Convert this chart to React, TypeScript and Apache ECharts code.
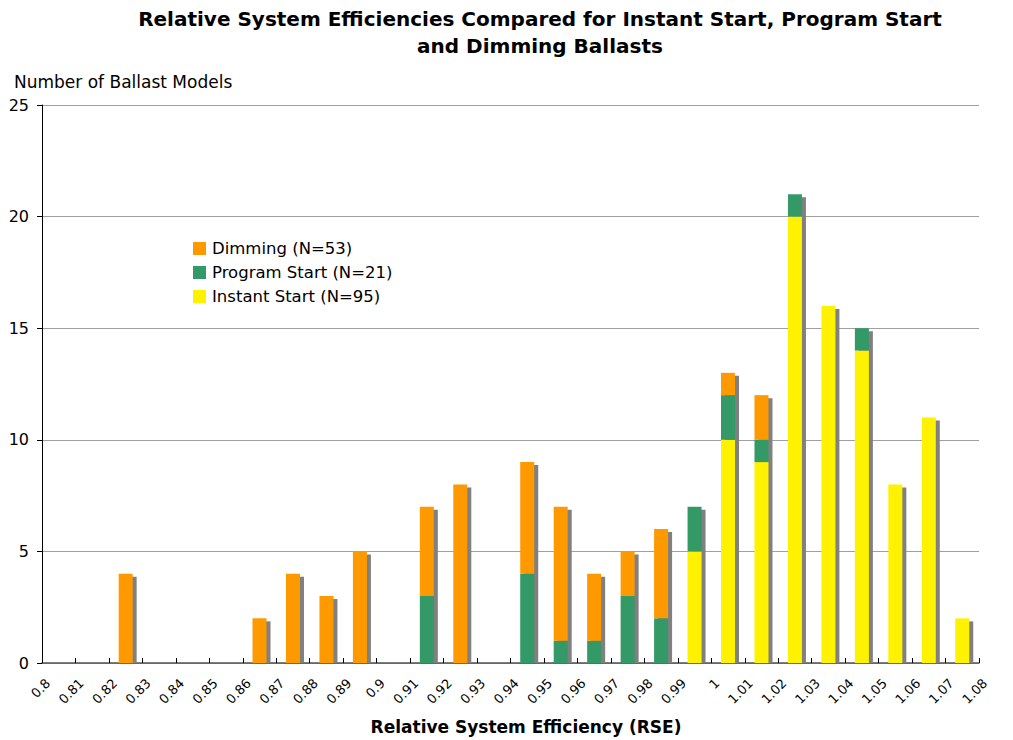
import React, { useEffect, useRef } from "react";
import * as echarts from "echarts";

const binLabels = ["0.80","0.81","0.82","0.83","0.84","0.85","0.86","0.87","0.88","0.89","0.90","0.91","0.92","0.93","0.94","0.95","0.96","0.97","0.98","0.99","1.00","1.01","1.02","1.03","1.04","1.05","1.06","1.07"];
const tickLabels = ["0.8","0.81","0.82","0.83","0.84","0.85","0.86","0.87","0.88","0.89","0.9","0.91","0.92","0.93","0.94","0.95","0.96","0.97","0.98","0.99","1","1.01","1.02","1.03","1.04","1.05","1.06","1.07","1.08"];

const instantStart = [0,0,0,0,0,0,0,0,0,0,0,0,0,0,0,0,0,0,0,5,10,9,20,16,14,8,11,2];
const programStart = [0,0,0,0,0,0,0,0,0,0,0,3,0,0,4,1,1,3,2,2,2,1,1,0,1,0,0,0];
const dimming      = [0,0,4,0,0,0,2,4,3,5,0,4,8,0,5,6,3,2,4,0,1,2,0,0,0,0,0,0];

const yTicks = [0, 5, 10, 15, 20, 25];

const FONT = "DejaVu Sans, Verdana, sans-serif";

export default function App() {
  const ref = useRef<HTMLDivElement>(null);
  useEffect(() => {
    if (!ref.current) return;
    const chart = echarts.init(ref.current, undefined, { renderer: "svg" });
    const totals = binLabels.map((_, i) => [i, instantStart[i] + programStart[i] + dimming[i]]);
    const BW = 14;
    chart.setOption({
      animation: false,
      backgroundColor: "#fff",
      textStyle: { fontFamily: FONT },
      title: {
        text: "Relative System Efficiencies Compared for Instant Start, Program Start\nand Dimming Ballasts",
        left: 535,
        top: 0,
        textAlign: "center",
        textStyle: { fontFamily: FONT, fontWeight: "bold", fontSize: 20, lineHeight: 27, color: "#000" },
      },
      graphic: [
        { type: "text", left: 14, top: 73, style: { text: "Number of Ballast Models", font: `17px ${FONT}`, fill: "#000" } },
        { type: "text", x: 526, y: 727, style: { text: "Relative System Efficiency (RSE)", font: `bold 17px ${FONT}`, fill: "#000", textAlign: "center", textVerticalAlign: "middle" } },
      ],
      legend: {
        orient: "vertical",
        left: 193,
        top: 240,
        padding: 0,
        itemWidth: 13,
        itemHeight: 13,
        itemGap: 7,
        icon: "rect",
        data: ["Dimming (N=53)", "Program Start (N=21)", "Instant Start (N=95)"],
        textStyle: { fontFamily: FONT, fontSize: 16.5, color: "#000", padding: [0, 0, 0, 1] },
      },
      grid: [
        { left: 42, right: 34, top: 105, bottom: 77, containLabel: false },
        { left: 48, right: 28, top: 105, bottom: 77, containLabel: false },
      ],
      xAxis: [
        { type: "category", gridIndex: 0, data: binLabels, boundaryGap: true, show: false, position: "bottom" },
        {
          type: "category",
          gridIndex: 0,
          data: tickLabels,
          boundaryGap: false,
          position: "bottom",
          axisLine: { show: true, lineStyle: { color: "#555", width: 1.5 } },
          axisTick: { show: true, inside: true, length: 5, interval: 0, lineStyle: { color: "#000" } },
          axisLabel: { show: false },
          splitLine: { show: false },
        },
        {
          type: "category",
          gridIndex: 1,
          data: tickLabels,
          boundaryGap: false,
          position: "bottom",
          axisLine: { show: false },
          axisTick: { show: false },
          axisLabel: { interval: 0, rotate: 45, fontSize: 13, color: "#000", margin: 18, fontFamily: FONT },
          splitLine: { show: false },
        },
      ],
      yAxis: [
        {
          type: "value",
          gridIndex: 0,
          min: 0,
          max: 25,
          interval: 5,
          axisLine: { show: true, lineStyle: { color: "#000" } },
          axisTick: { show: true, length: 5, lineStyle: { color: "#000" } },
          axisLabel: { fontSize: 16, color: "#000", margin: 13, fontFamily: FONT, formatter: (v: number) => (yTicks.includes(v) ? String(v) : "") },
          splitLine: { show: true, lineStyle: { color: "#a0a0a0", width: 1 } },
        },
        { type: "value", gridIndex: 1, min: 0, max: 25, interval: 5, show: false, splitLine: { show: false } },
      ],
      series: [
        {
          type: "custom",
          name: "shadow",
          xAxisIndex: 0,
          yAxisIndex: 0,
          z: 1,
          silent: true,
          data: totals,
          renderItem: (params: any, api: any) => {
            const idx = api.value(0);
            const total = api.value(1);
            if (!total) return null;
            const top = api.coord([idx, total]);
            const base = api.coord([idx, 0]);
            return {
              type: "rect",
              shape: { x: top[0] - BW / 2 + 4, y: top[1] + 3, width: BW, height: base[1] - top[1] - 3 },
              style: { fill: "#808080" },
            };
          },
        },
        { type: "bar", name: "Instant Start (N=95)", stack: "a", xAxisIndex: 0, yAxisIndex: 0, barWidth: BW, z: 2, data: instantStart, itemStyle: { color: "#FFF200" } },
        { type: "bar", name: "Program Start (N=21)", stack: "a", xAxisIndex: 0, yAxisIndex: 0, barWidth: BW, z: 2, data: programStart, itemStyle: { color: "#339966" } },
        { type: "bar", name: "Dimming (N=53)", stack: "a", xAxisIndex: 0, yAxisIndex: 0, barWidth: BW, z: 2, data: dimming, itemStyle: { color: "#FF9900" } },
      ],
    });
    return () => chart.dispose();
  }, []);
  return <div ref={ref} style={{ position: "fixed", left: 0, top: 0, width: 1013, height: 740 }} />;
}
